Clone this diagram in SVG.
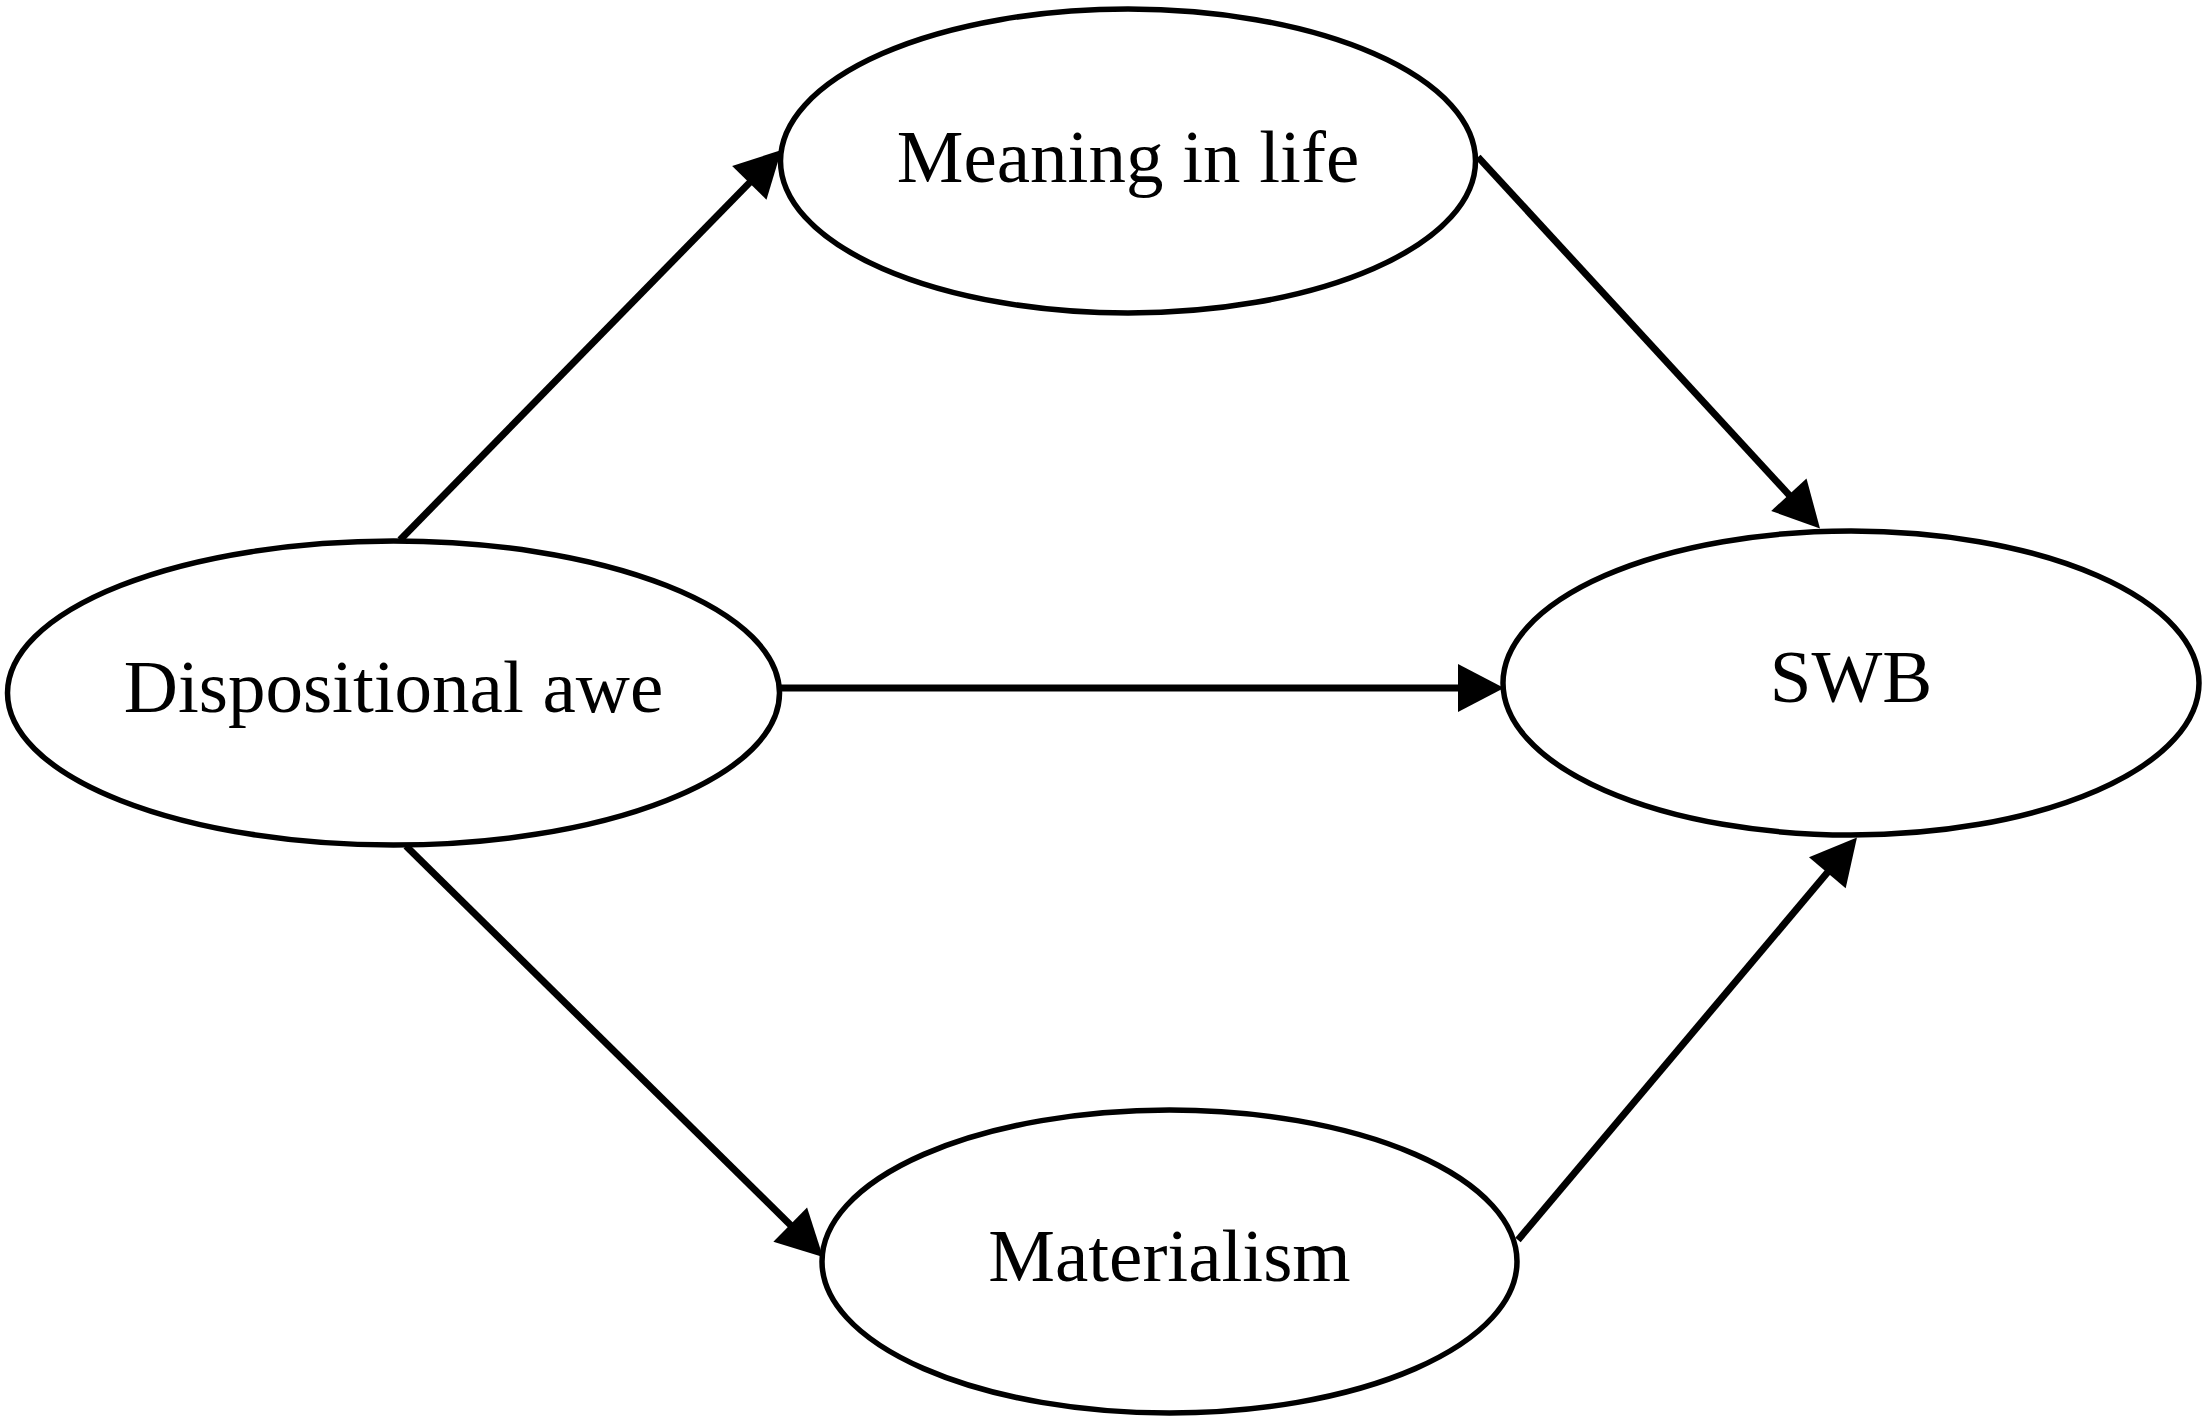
<svg xmlns="http://www.w3.org/2000/svg" width="2208" height="1423" viewBox="0 0 2208 1423">
  <style>
    .node ellipse { fill: #ffffff; stroke: #000000; stroke-width: 5.5; }
    .node text { font-family: "Liberation Serif", "Times New Roman", serif; font-size: 75px; fill: #000000; text-anchor: middle; }
    .edge { stroke: #000000; stroke-width: 7; fill: none; marker-end: url(#arrow); }
  </style>
  <defs>
    <marker id="arrow" markerUnits="userSpaceOnUse" markerWidth="50" markerHeight="50" refX="6" refY="24" orient="auto" overflow="visible">
      <path d="M0,0 L46,24 L0,48 Z" fill="#000000"/>
    </marker>
  </defs>
  <rect width="2208" height="1423" fill="#ffffff"/>
  <g id="nodes">
    <g id="node-meaning" class="node">
      <ellipse cx="1128" cy="161" rx="347.5" ry="152"/>
      <text x="1128" y="182">Meaning in life</text>
    </g>
    <g id="node-awe" class="node">
      <ellipse cx="393.5" cy="693" rx="386" ry="152"/>
      <text x="393.5" y="712">Dispositional awe</text>
    </g>
    <g id="node-swb" class="node">
      <ellipse cx="1851" cy="683" rx="348" ry="152"/>
      <text x="1851" y="702">SWB</text>
    </g>
    <g id="node-materialism" class="node">
      <ellipse cx="1169.5" cy="1261.5" rx="347.5" ry="151.5"/>
      <text x="1169.5" y="1281">Materialism</text>
    </g>
  </g>
  <g id="connectors">
    <line class="edge" x1="400" y1="540" x2="753.5" y2="178.6"/>
    <line class="edge" x1="1478" y1="157" x2="1792.9" y2="499.1"/>
    <line class="edge" x1="780" y1="688" x2="1464" y2="688"/>
    <line class="edge" x1="406" y1="846" x2="794.5" y2="1228.9"/>
    <line class="edge" x1="1518" y1="1240" x2="1831.2" y2="868.1"/>
  </g>
</svg>
